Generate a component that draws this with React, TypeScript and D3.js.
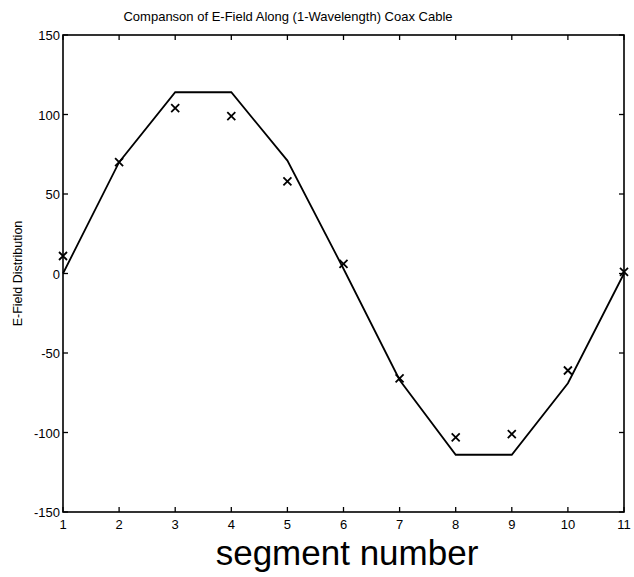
import React, { useRef, useEffect } from 'react';
import * as d3 from 'd3';

const segments = [1, 2, 3, 4, 5, 6, 7, 8, 9, 10, 11];
const theoryValues = [0, 70, 114, 114, 71, 3, -67, -114, -114, -69, 0];
const measuredValues = [11, 70, 104, 99, 58, 6, -66, -103, -101, -61, 1];
const yTicks = [150, 100, 50, 0, -50, -100, -150];

const App: React.FC = () => {
  const svgRef = useRef<SVGSVGElement | null>(null);

  useEffect(() => {
    if (!svgRef.current) return;
    const width = 634;
    const height = 577;
    const svg = d3.select(svgRef.current);
    svg.selectAll('*').remove();

    const left = 63, right = 624, top = 35, bottom = 512;
    const x = d3.scaleLinear().domain([1, 11]).range([left, right]);
    const y = d3.scaleLinear().domain([-150, 150]).range([bottom, top]);
    const font = 'Liberation Sans, Arial, Helvetica, sans-serif';

    svg.append('rect').attr('width', width).attr('height', height).attr('fill', '#fff');

    // Title
    svg.append('text')
      .attr('x', 288)
      .attr('y', 21)
      .attr('text-anchor', 'middle')
      .attr('font-family', font)
      .attr('font-size', '13px')
      .text('Companson of E-Field Along (1-Wavelength) Coax Cable');

    // Frame
    svg.append('rect')
      .attr('x', left).attr('y', top)
      .attr('width', right - left).attr('height', bottom - top)
      .attr('fill', 'none').attr('stroke', '#000').attr('stroke-width', 1.6);

    const tickLen = 5;
    // x ticks (bottom and top, pointing in)
    segments.forEach(s => {
      svg.append('line')
        .attr('x1', x(s)).attr('x2', x(s))
        .attr('y1', bottom).attr('y2', bottom - tickLen)
        .attr('stroke', '#000').attr('stroke-width', 1.3);
      svg.append('line')
        .attr('x1', x(s)).attr('x2', x(s))
        .attr('y1', top).attr('y2', top + tickLen)
        .attr('stroke', '#000').attr('stroke-width', 1.3);
      svg.append('text')
        .attr('x', x(s)).attr('y', bottom + 17)
        .attr('text-anchor', 'middle')
        .attr('font-family', font).attr('font-size', '13px')
        .text(String(s));
    });

    // y ticks (left and right, pointing in)
    yTicks.forEach(t => {
      svg.append('line')
        .attr('x1', left).attr('x2', left + tickLen)
        .attr('y1', y(t)).attr('y2', y(t))
        .attr('stroke', '#000').attr('stroke-width', 1.3);
      svg.append('line')
        .attr('x1', right).attr('x2', right - tickLen)
        .attr('y1', y(t)).attr('y2', y(t))
        .attr('stroke', '#000').attr('stroke-width', 1.3);
      svg.append('text')
        .attr('x', left - 3).attr('y', y(t) + 5)
        .attr('text-anchor', 'end')
        .attr('font-family', font).attr('font-size', '13px')
        .text(String(t));
    });

    // Axis labels
    svg.append('text')
      .attr('transform', `translate(22, ${(top + bottom) / 2}) rotate(-90)`)
      .attr('text-anchor', 'middle')
      .attr('font-family', font).attr('font-size', '12.5px')
      .text('E-Field Distribution');

    svg.append('text')
      .attr('x', 347).attr('y', 565)
      .attr('text-anchor', 'middle')
      .attr('font-family', font).attr('font-size', '35px')
      .text('segment number');

    // Theory line
    const line = d3.line<number>()
      .x((_, i) => x(segments[i]))
      .y(d => y(d));
    svg.append('path')
      .attr('d', line(theoryValues) as string)
      .attr('fill', 'none').attr('stroke', '#000').attr('stroke-width', 1.8);

    // Measured markers (x)
    const m = 4;
    const marks = svg.append('g');
    measuredValues.forEach((v, i) => {
      const cx = x(segments[i]);
      const cy = y(v);
      marks.append('path')
        .attr('d', `M${cx - m},${cy - m}L${cx + m},${cy + m}M${cx - m},${cy + m}L${cx + m},${cy - m}`)
        .attr('stroke', '#000').attr('stroke-width', 1.8);
    });
  }, []);

  return (
    <svg ref={svgRef} width={634} height={577}
      style={{ display: 'block', position: 'absolute', left: 0, top: 0 }} />
  );
};

export default App;
